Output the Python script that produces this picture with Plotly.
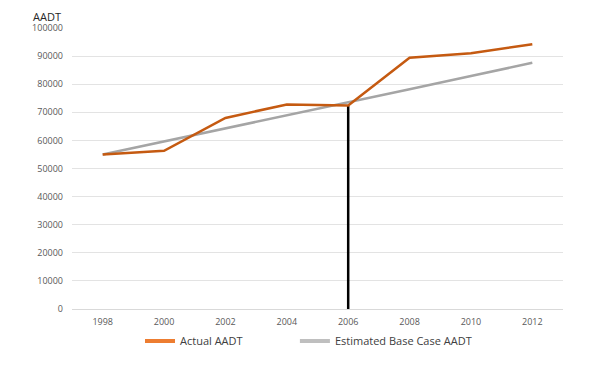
import plotly.graph_objects as go

years = ["1998", "2000", "2002", "2004", "2006", "2008", "2010", "2012"]
actual = [55000, 56300, 68000, 72800, 72400, 89400, 91000, 94200]
estimated = [55000, 59600, 64300, 68900, 73500, 78200, 82900, 87600]
marker_year = ["2006", "2006"]
marker_vals = [0, 72400]

fig = go.Figure()
fig.add_trace(go.Scatter(x=marker_year, y=marker_vals, mode="lines",
                         line=dict(color="black", width=2.5), showlegend=False, hoverinfo="skip"))
fig.add_trace(go.Scatter(x=years, y=estimated, mode="lines",
                         line=dict(color="#A5A5A5", width=2.5), showlegend=False))
fig.add_trace(go.Scatter(x=years, y=actual, mode="lines",
                         line=dict(color="#C55A11", width=2.5), showlegend=False))
# legend entries
fig.add_trace(go.Scatter(x=[None], y=[None], mode="lines", name="Actual AADT",
                         line=dict(color="#ED7D31", width=4), legend="legend"))
fig.add_trace(go.Scatter(x=[None], y=[None], mode="lines", name="Estimated Base Case AADT",
                         line=dict(color="#BFBFBF", width=4), legend="legend2"))

leg_common = dict(orientation="h", y=-0.114, yanchor="middle",
                  xanchor="left", font=dict(size=11, color="#404040"), itemwidth=30,
                  bgcolor="rgba(0,0,0,0)")

fig.update_layout(
    width=574, height=350,
    margin=dict(l=64, r=19, t=20, b=49, autoexpand=False),
    paper_bgcolor="white", plot_bgcolor="white",
    font=dict(family="Open Sans, sans-serif", color="#595959"),
    showlegend=True,
    legend=dict(x=0.1385, **leg_common),
    legend2=dict(x=0.454, **leg_common),
    xaxis=dict(type="category", categoryorder="array", categoryarray=years,
               range=[-0.5, 7.5], showgrid=False, showline=True, linecolor="#D9D9D9",
               linewidth=1, ticks="", tickfont=dict(size=9, color="#595959"),
               zeroline=False, ticklabelstandoff=4, automargin=False),
    yaxis=dict(range=[0, 100000], dtick=10000, showgrid=True, gridcolor="#E3E3E3",
               gridwidth=1, zeroline=False, showline=False, ticks="",
               tickformat="d", tickfont=dict(size=9, color="#595959"),
               ticklabelstandoff=8, automargin=False),
)
fig.add_annotation(text="AADT", xref="paper", yref="paper", x=-0.0815, y=1 + 20 / 281,
                   xanchor="left", yanchor="top", showarrow=False, borderpad=0,
                   font=dict(size=11, color="#262626"))
fig.write_html("out.html")
